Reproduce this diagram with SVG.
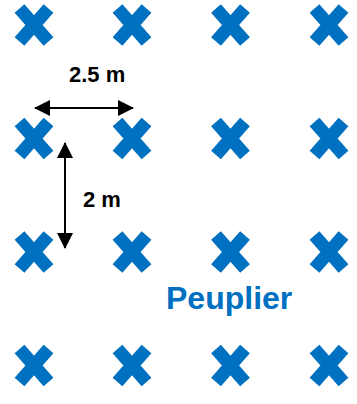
<svg xmlns="http://www.w3.org/2000/svg" width="357" height="404" viewBox="0 0 357 404">
<style>
.x{stroke:#0070C0;stroke-width:13;stroke-linecap:butt;fill:none}
.dim{stroke:#000;stroke-width:2;fill:none}
.lbl{font-family:"Liberation Sans",Arial,sans-serif;font-weight:bold;font-size:22px;fill:#000}
.name{font-family:"Liberation Sans",Arial,sans-serif;font-weight:bold;font-size:32px;fill:#0070C0}
</style>
<defs>
<path id="cross" class="x" d="M-14.5,-16.5L14.5,16.5M14.5,-16.5L-14.5,16.5"/>
<marker id="ah" viewBox="0 0 16 16" refX="15" refY="8" markerWidth="16" markerHeight="16" markerUnits="userSpaceOnUse" orient="auto-start-reverse">
<path d="M0,0L16,8L0,16Z" fill="#000"/>
</marker>
</defs>
<rect width="357" height="404" fill="#fff"/>
<g id="trees">
<g id="t11"><use href="#cross" x="34" y="25"/></g>
<g id="t12"><use href="#cross" x="132" y="25"/></g>
<g id="t13"><use href="#cross" x="230.5" y="25"/></g>
<g id="t14"><use href="#cross" x="329" y="25"/></g>
<g id="t21"><use href="#cross" x="34" y="138.5"/></g>
<g id="t22"><use href="#cross" x="132" y="138.5"/></g>
<g id="t23"><use href="#cross" x="230.5" y="138.5"/></g>
<g id="t24"><use href="#cross" x="329" y="138.5"/></g>
<g id="t31"><use href="#cross" x="34" y="252"/></g>
<g id="t32"><use href="#cross" x="132" y="252"/></g>
<g id="t33"><use href="#cross" x="230.5" y="252"/></g>
<g id="t34"><use href="#cross" x="329" y="252"/></g>
<g id="t41"><use href="#cross" x="34" y="365.5"/></g>
<g id="t42"><use href="#cross" x="132" y="365.5"/></g>
<g id="t43"><use href="#cross" x="230.5" y="365.5"/></g>
<g id="t44"><use href="#cross" x="329" y="365.5"/></g>
</g>
<g id="connectors">
<line class="dim" x1="35" y1="108" x2="133" y2="108" marker-start="url(#ah)" marker-end="url(#ah)"/>
<line class="dim" x1="65" y1="143" x2="65" y2="248" marker-start="url(#ah)" marker-end="url(#ah)"/>
</g>
<g id="labels">
<text class="lbl" x="69" y="82">2.5 m</text>
<text class="lbl" x="83" y="207">2 m</text>
<text class="name" x="166" y="309">Peuplier</text>
</g>
</svg>
